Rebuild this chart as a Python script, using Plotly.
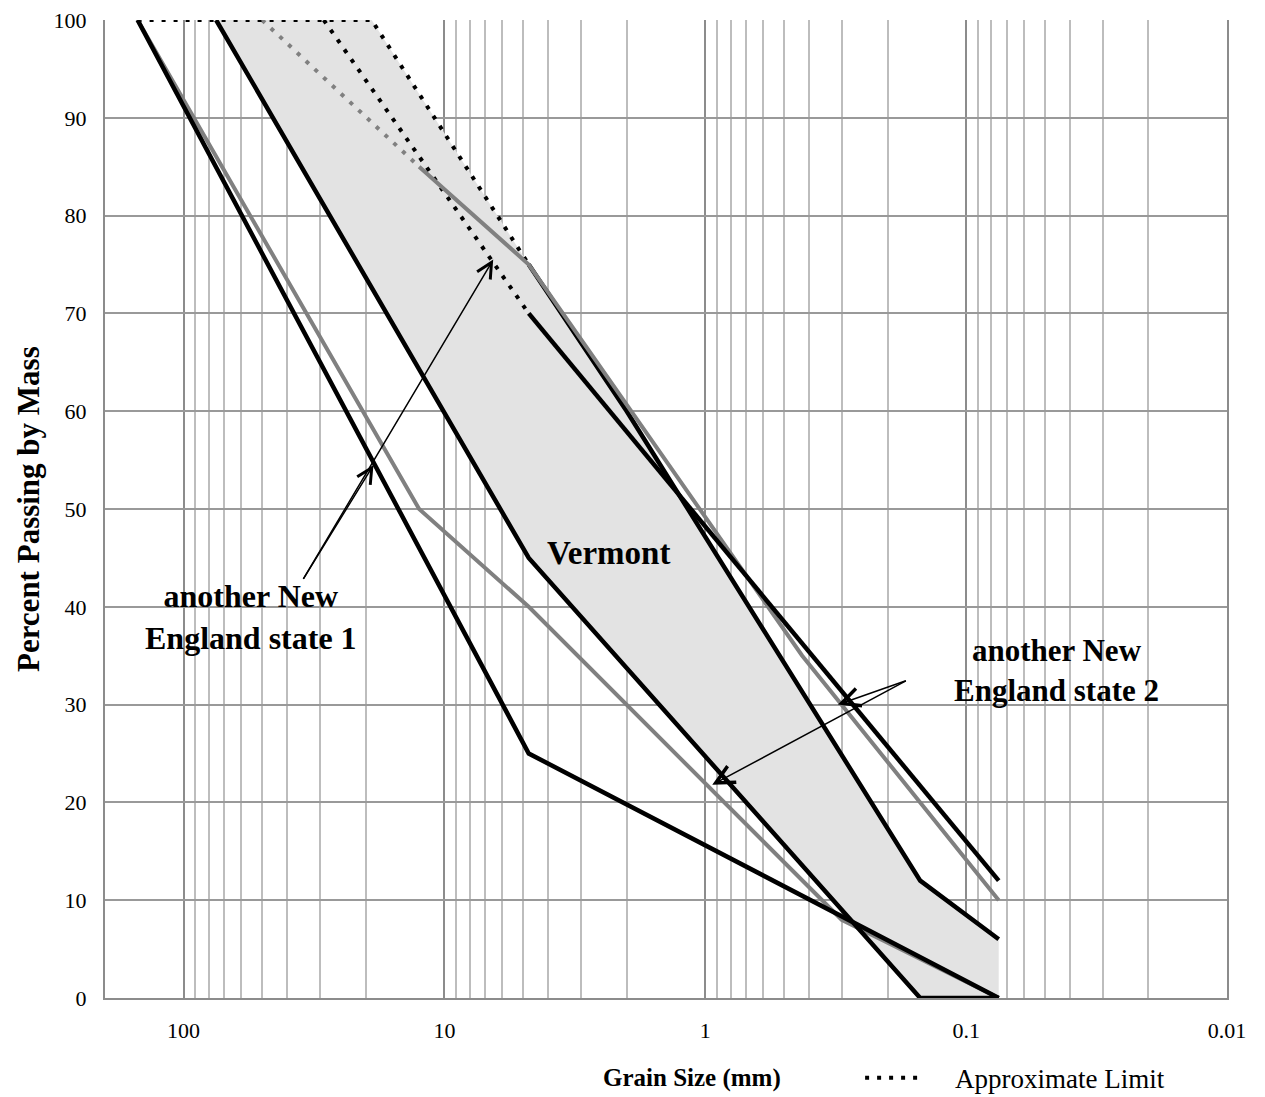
import numpy as np
import plotly.graph_objects as go

# ---- data (grain size in mm, percent passing) ----
sizes_A = [150, 4.75, 0.075]
pass_A = [100, 25, 0]
sizes_B = [150, 12.5, 4.75, 0.3, 0.075]
pass_B = [100, 50, 40, 8, 0]
sizes_C = [75, 4.75, 0.15, 0.075]
pass_C = [100, 45, 0, 0]
sizes_D = [4.75, 0.075]
pass_D = [70, 12]
sizes_D_lim = [29, 4.75]
pass_D_lim = [100, 70]
sizes_E = [4.75, 2, 0.15, 0.075]
pass_E = [75, 60, 12, 6]
sizes_E_lim = [150, 19, 4.75]
pass_E_lim = [100, 100, 75]
sizes_F = [12.5, 4.75, 0.425, 0.075]
pass_F = [85, 75, 35, 10]
sizes_F_lim = [50, 12.5]
pass_F_lim = [100, 85]

x_tickvals = [100, 10, 1, 0.1, 0.01]
x_ticktext = ["100", "10", "1", "0.1", "0.01"]
y_tickvals = list(range(0, 101, 10))
minor_digits = [2, 3, 4, 5, 6, 7, 8, 9]
decades = [0.01, 0.1, 1, 10, 100]

FONT = "Liberation Serif"
BLACK = "#000000"
GRAY = "#808080"
FILL = "rgb(227,227,227)"

# Vermont band polygon: upper limit (dotted + solid) then lower limit reversed
poly_x = [sizes_C[0]] + sizes_E_lim[1:] + sizes_E[1:] + sizes_C[::-1]
poly_y = [pass_C[0]] + pass_E_lim[1:] + pass_E[1:] + pass_C[::-1]

fig = go.Figure()
fig.add_trace(go.Scatter(x=poly_x, y=poly_y, fill="toself", fillcolor=FILL,
                         line=dict(width=0), mode="lines", showlegend=False,
                         hoverinfo="skip"))

def line(x, y, color, dash=None, width=4, legend=False, name=None):
    fig.add_trace(go.Scatter(
        x=x, y=y, mode="lines", name=name, showlegend=legend, cliponaxis=False,
        line=dict(color=color, width=width, dash=dash)))

DOT = "4px,8px"
line(sizes_F_lim, pass_F_lim, GRAY, DOT)
line(sizes_D_lim, pass_D_lim, BLACK, DOT)
line(sizes_E_lim, pass_E_lim, BLACK, DOT, legend=True,
     name="\u00a0\u00a0\u00a0\u00a0Approximate Limit")
line(sizes_B, pass_B, GRAY)
line(sizes_A, pass_A, BLACK, width=4.5)
line(sizes_C, pass_C, BLACK, width=4.5)
line(sizes_E, pass_E, BLACK, width=4.5)
line(sizes_F, pass_F, GRAY)
line(sizes_D, pass_D, BLACK, width=4.5)

minor_vals = [d * m for d in decades[:-1] for m in minor_digits] + [200]

fig.update_xaxes(
    type="log", range=[np.log10(200), -2], tickvals=x_tickvals, ticktext=x_ticktext,
    showgrid=True, gridcolor="#8c8c8c", gridwidth=1.5,
    minor=dict(tickvals=minor_vals, showgrid=True, gridcolor="#bdbdbd", gridwidth=1.5),
    showline=True, linecolor="#8c8c8c", linewidth=2,
    ticks="outside", ticklen=12, tickcolor="rgba(0,0,0,0)",
    tickfont=dict(family=FONT, size=22, color="#000"), zeroline=False,
    ticklabeloverflow="allow", automargin=False)
fig.update_yaxes(
    range=[0, 100], tickvals=y_tickvals,
    showgrid=True, gridcolor="#999999", gridwidth=1.5,
    showline=True, linecolor="#8c8c8c", linewidth=2, mirror=True,
    ticks="outside", ticklen=12, tickcolor="rgba(0,0,0,0)",
    tickfont=dict(family=FONT, size=22, color="#000"), zeroline=False,
    ticklabeloverflow="allow", automargin=False)

anns = []
# axis titles
anns.append(dict(text="<b>Percent Passing by Mass</b>", xref="paper", yref="paper",
                 x=-0.0686, y=0.5, xanchor="center", yanchor="middle",
                 textangle=-90, showarrow=False,
                 font=dict(family=FONT, size=31, color="#000")))
anns.append(dict(text="<b>Grain Size (mm)</b>", xref="paper", yref="paper",
                 x=0.523, y=-0.082, xanchor="center", yanchor="middle",
                 showarrow=False, font=dict(family=FONT, size=25, color="#000")))
# labels
anns.append(dict(text="<b>Vermont</b>", xref="x", yref="y", x=np.log10(2.34), y=45.5,
                 showarrow=False, font=dict(family=FONT, size=33, color="#000")))
anns.append(dict(text="<b>another New<br>England state 1</b>", xref="x", yref="y",
                 x=np.log10(55), y=39.0, showarrow=False,
                 font=dict(family=FONT, size=32, color="#000")))
anns.append(dict(text="<b>another New<br>England state 2</b>", xref="x", yref="y",
                 x=np.log10(0.045), y=33.5, showarrow=False,
                 font=dict(family=FONT, size=31, color="#000")))
# arrows
arrows = [
    ((35, 42.7), (18.7, 54.5), 2.0),
    ((35, 42.7), (6.5, 75.5), 2.0),
    ((0.168, 32.5), (0.31, 30.0), 2.4),
    ((0.168, 32.5), (0.94, 21.8), 2.4),
]
for (tx, ty), (hx, hy), size in arrows:
    anns.append(dict(text="", xref="x", yref="y", axref="x", ayref="y",
                     x=np.log10(hx), y=hy, ax=np.log10(tx), ay=ty,
                     showarrow=True, arrowhead=5, arrowsize=size, arrowwidth=1.5,
                     arrowcolor="#000", standoff=0, startstandoff=0))

fig.update_layout(
    width=1257, height=1089,
    margin=dict(l=97, r=38, t=12, b=99, autoexpand=False),
    paper_bgcolor="white", plot_bgcolor="white",
    annotations=anns,
    showlegend=True,
    legend=dict(x=0.673, y=-0.082, xanchor="left", yanchor="middle",
                orientation="h", bgcolor="rgba(0,0,0,0)",
                font=dict(family=FONT, size=27, color="#000"), itemwidth=58),
)

fig.write_html("out.html")
